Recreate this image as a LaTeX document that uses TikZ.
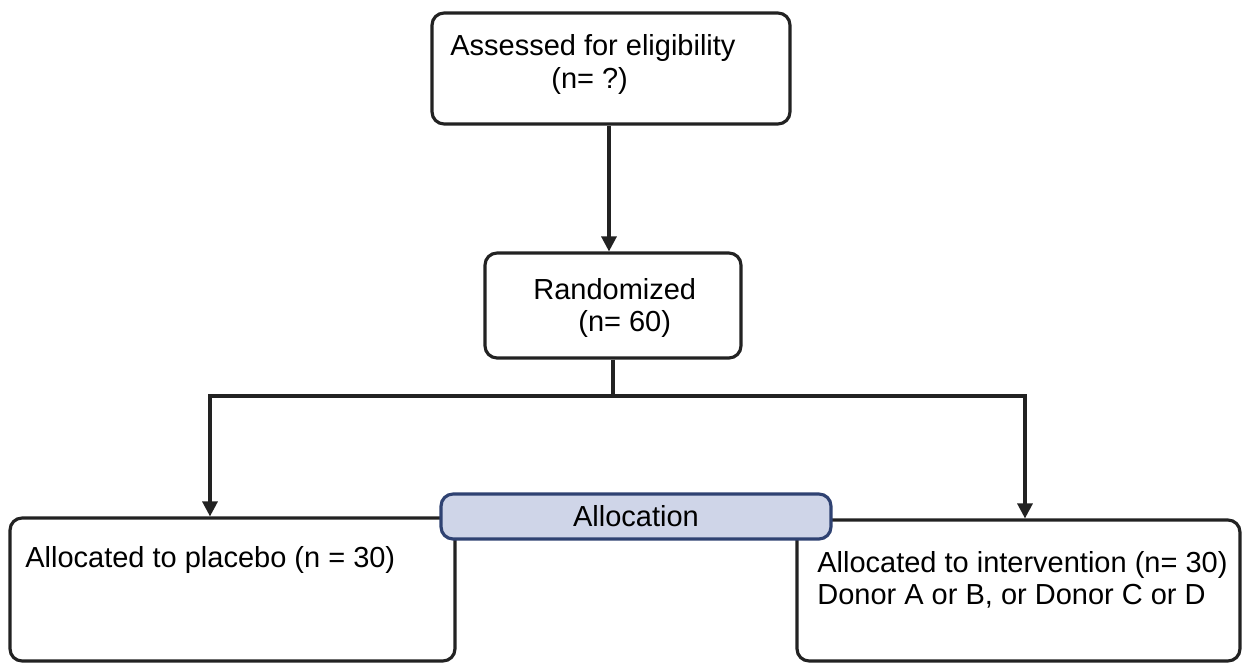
\documentclass[tikz,border=0pt]{standalone}
\usepackage{fontspec}
\setmainfont{Liberation Sans}
\usetikzlibrary{arrows.meta,positioning}
\definecolor{allocfill}{HTML}{CFD5E8}
\definecolor{allocline}{HTML}{2F4272}
\definecolor{ink}{HTML}{222222}

\begin{document}
\begin{tikzpicture}[x=0.02cm,y=-0.02cm,
    box/.style={draw=ink,line width=1.8pt,rounded corners=0.24cm,inner sep=0pt},
    allocbox/.style={box,draw=allocline,fill=allocfill},
    txt/.style={anchor=base west,inner sep=0pt,text=black,font=\fontsize{16.5}{20}\selectfont},
    link/.style={draw=ink,line width=1.8pt},
    arr/.style={link,-{Triangle[width=0.3cm,length=0.3cm]}}]
  \useasboundingbox (0,0) rectangle (1242,663);
  % boxes
  \node[box,minimum width=7.16cm,minimum height=2.22cm] (assess) at (611,68.5) {};
  \node[box,minimum width=5.12cm,minimum height=2.1cm] (rand) at (613,305.5) {};
  \node[box,minimum width=8.9cm,minimum height=2.86cm] (placebo) at (232.5,589.5) {};
  \node[box,minimum width=8.86cm,minimum height=2.82cm] (interv) at (1018.5,590.5) {};
  % texts
  \node[txt] (assesst) at (450,55) {Assessed for eligibility};
  \node[txt] (assessn) at (551,88) {(n= ?)};
  \node[txt] (randt) at (533,299) {Randomized};
  \node[txt] (randn) at (578,331) {(n= 60)};
  \node[txt] (placebot) at (25,567) {Allocated to placebo (n = 30)};
  \node[txt] (intervt) at (817,572) {Allocated to intervention (n= 30)};
  \node[txt] (intervd) at (817,604) {Donor A or B, or Donor C or D};
  % connectors
  \coordinate (split) at (613,396);
  \draw[arr] (assess.south -| 609,0) -- (rand.north -| 609,0);
  \draw[link] (rand.south) -- (split);
  \draw[arr] (split) -| ([xshift=-0.45cm]placebo.north);
  \draw[arr] (split) -| ([xshift=0.13cm]interv.north);
  % allocation label
  \node[allocbox,minimum width=7.8cm,minimum height=0.9cm,
    font=\fontsize{16.5}{20}\selectfont] (alloc) at (636,516.5) {Allocation};
\end{tikzpicture}
\end{document}
